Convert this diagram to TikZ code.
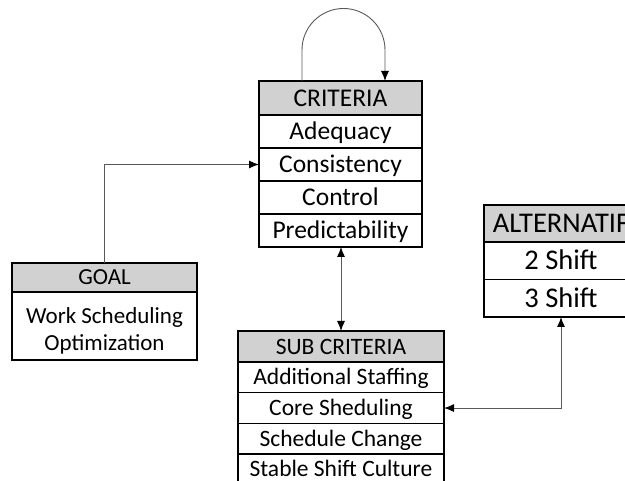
\documentclass[tikz,border=0pt]{standalone}
\usepackage{fontspec}
\setmainfont{Carlito}
\usetikzlibrary{arrows.meta,positioning,calc}
\begin{document}
\begin{tikzpicture}[x=1pt,y=1pt,
  cell/.style={draw=black,line width=1.4pt,outer sep=0pt,inner sep=0pt,align=center,text depth=0pt},
  hdr/.style={cell,fill=black!18},
  conn/.style={draw=black!65,line width=0.9pt},
  tip/.style={-{Latex[length=10pt,width=8pt,black]}},
  tips/.style={{Latex[length=10pt,width=8pt,black]}-{Latex[length=10pt,width=8pt,black]}}]
\useasboundingbox (0,0) rectangle (625,481);
\clip (0,0) rectangle (625,481);
% CRITERIA
\begin{scope}[every node/.style={minimum width=163pt,font=\fontsize{25.5}{27}\selectfont,text height=16.4pt}]
\node[hdr,minimum height=34pt] (crith) at (340.5,383) {CRITERIA};
\node[cell,minimum height=33pt,below=0pt of crith] (adeq) {Adequacy};
\node[cell,minimum height=33pt,below=0pt of adeq] (cons) {Consistency};
\node[cell,minimum height=33pt,below=0pt of cons] (ctrl) {Control};
\node[cell,minimum height=33pt,below=0pt of ctrl] (pred) {Predictability};
\end{scope}
% GOAL
\begin{scope}[every node/.style={minimum width=185pt,font=\fontsize{23}{27.5}\selectfont}]
\node[hdr,minimum height=29pt,text height=13.5pt] (goalh) at (104.5,203.5) {GOAL};
\node[cell,minimum height=68pt,below=0pt of goalh] (goalb) {};
\node[align=center,inner sep=0pt,minimum width=0pt] (goaltxt) at (104.5,150) {Work Scheduling\\Optimization};
\end{scope}
% SUB CRITERIA
\begin{scope}[every node/.style={minimum width=206pt,font=\fontsize{23.5}{25}\selectfont,text height=15.1pt}]
\node[hdr,minimum height=31pt] (subh) at (341,134.5) {SUB CRITERIA};
\node[cell,minimum height=30.7pt,below=0pt of subh] (addst) {Additional Staffing};
\node[cell,minimum height=30.7pt,below=0pt of addst] (core) {Core Sheduling};
\node[cell,minimum height=30.7pt,below=0pt of core] (schch) {Schedule Change};
\node[cell,minimum height=30.7pt,below=0pt of schch] (stab) {Stable Shift Culture};
\end{scope}
% ALTERNATIF
\begin{scope}[every node/.style={minimum width=154pt,font=\fontsize{28.5}{30}\selectfont,text height=18.4pt}]
\node[hdr,minimum height=37pt] (alth) at (561,257.5) {ALTERNATIF};
\node[cell,minimum height=37.5pt,below=0pt of alth] (sh2) {2 Shift};
\node[cell,minimum height=37.5pt,below=0pt of sh2] (sh3) {3 Shift};
\end{scope}
% connectors
\coordinate (lpA) at ($(crith.north west)+(43,0)$);
\coordinate (lpB) at ($(crith.north west)+(126,0)$);
\draw[conn,tip] (lpA) -- ++(0,31) arc (180:0:41.5) -- (lpB);
\draw[conn,tip] (goalh.north) |- (cons.west);
\draw[conn,tips] (pred.south -| subh.north) -- (subh.north);
\draw[conn,tips] (core.east) -| (sh3.south);
\end{tikzpicture}
\end{document}
